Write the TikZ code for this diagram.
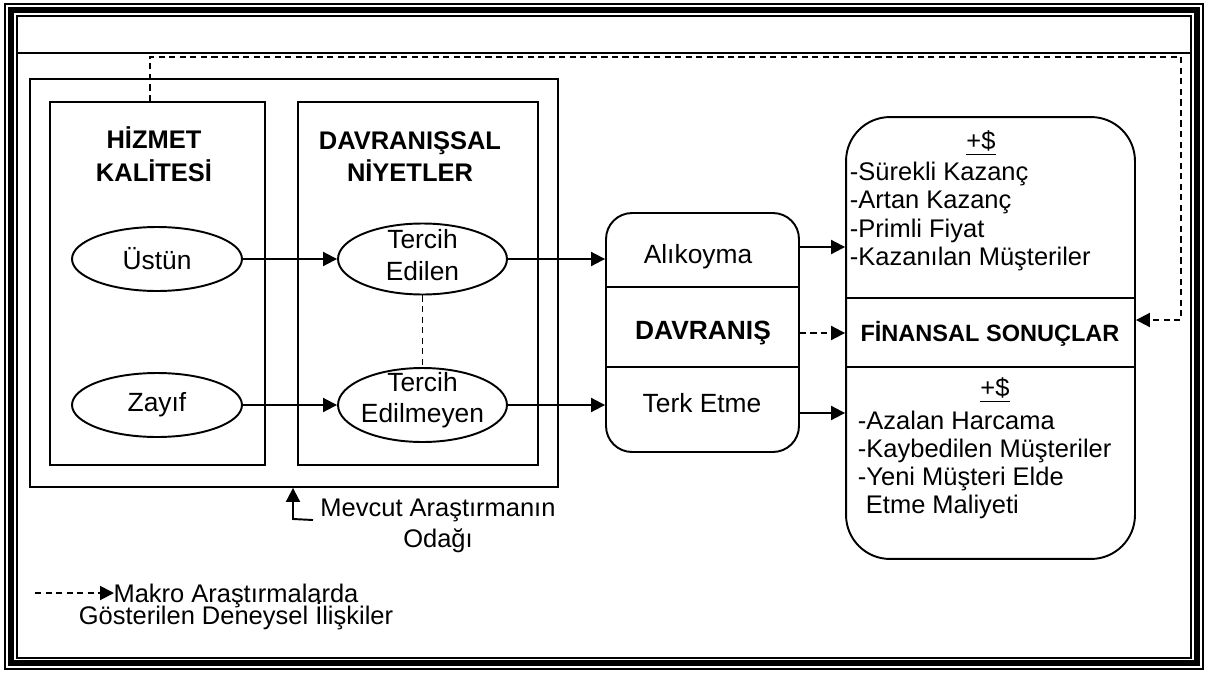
\documentclass[tikz,border=0pt]{standalone}
\usepackage{fontspec}
\setmainfont{Liberation Sans}
\usetikzlibrary{arrows.meta,shapes.geometric}

\newcommand\tightlines{\lineskiplimit=-20pt\relax}

\begin{document}
\begin{tikzpicture}[x=0.02cm,y=-0.02cm,line width=1.1pt,
	font=\fontsize{14.5}{17}\selectfont,
	>={Triangle[length=0.28cm,width=0.28cm]},
	dsh/.style={dash pattern=on 3.5pt off 2.5pt},
	box/.style={draw,inner sep=0pt},
	oval/.style={draw,ellipse,inner sep=0pt,minimum width=3.4cm,minimum height=1.28cm,font=\fontsize{15}{18}\selectfont},
	head/.style={align=center,font=\fontsize{14.5}{18.5}\selectfont\bfseries},
	two/.style={align=center,inner sep=0pt,font=\fontsize{15}{18}\selectfont},
	item/.style={anchor=west,inner sep=0pt,text height=10.4pt,text depth=0pt}]
		\useasboundingbox (0,0) rectangle (1217,673);
		
		% outer frame
		\draw (5,4) rectangle (1203,669);
		\draw[line width=3.4pt] (11,10) rectangle (1197,663);
		\draw (17,16) rectangle (1191,658);
		\draw (17,53) -- (1191,53);
		
		\coordinate (fb) at (1181,57);
		\coordinate (r1) at (0,247);
		\coordinate (r2) at (0,320);
		\coordinate (r3) at (0,413);
		
		\node[box,minimum width=10.56cm,minimum height=8.16cm] (O) at (294,283) {};
		\node[box,minimum width=4.3cm,minimum height=7.26cm] (H) at (157.5,283.5) {};
		\node[box,minimum width=4.8cm,minimum height=7.26cm] (N) at (418,283.5) {};
		\node[head] (H') at (154,154) {HİZMET\\KALİTESİ};
		\node[head] (N') at (410,156.5) {DAVRANIŞSAL\\NİYETLER};
		
		\node[oval] (U) at (157,259) {Üstün};
		\node[oval] (Z) at (157,405) {Zayıf};
		\node[oval,minimum width=3.38cm,minimum height=1.42cm,
			label={[two,yshift=0.08cm]center:Tercih\\Edilen}] (T) at (422.5,259) {};
		\node[oval,minimum width=3.38cm,minimum height=1.48cm,
			label={[two,yshift=0.1cm]center:Tercih\\Edilmeyen}] (T') at (422.5,405) {};
		
		% davranis
		\node[box,rounded corners=0.52cm,minimum width=3.86cm,minimum height=4.78cm] (D) at (702.5,332.5) {};
		\draw (D.west |- 0,287) -- (D.east |- 0,287);
		\draw (D.west |- 0,367) -- (D.east |- 0,367);
		\node[font=\fontsize{15}{18}\selectfont] (D1) at (698,257) {Alıkoyma};
		\node[font=\fontsize{15}{18}\selectfont\bfseries] (D2) at (703,333) {DAVRANIŞ};
		\node[font=\fontsize{15}{18}\selectfont] (D3) at (702,403) {Terk Etme};
		
		% finansal sonuclar
		\node[box,rounded corners=0.88cm,minimum width=5.78cm,minimum height=8.84cm] (F) at (990.5,338) {};
		\draw (F.west |- 0,298) -- (F.east |- 0,298);
		\draw (F.west |- 0,367) -- (F.east |- 0,367);
		\node (F1) at (981,143) {\underline{+\$}};
		\foreach \t [count=\i] in {-Sürekli Kazanç,-Artan Kazanç,-Primli Fiyat,-Kazanılan Müşteriler}
			\node[item] (g\i) at (849,142.5+28.5*\i) {\t};
		\node[font=\fontsize{13.4}{16}\selectfont\bfseries] (F2) at (990,334) {FİNANSAL SONUÇLAR};
		\node (F3) at (995,390) {\underline{+\$}};
		\foreach \t [count=\i] in {-Azalan Harcama,-Kaybedilen Müşteriler,-Yeni Müşteri Elde}
			\node[item] (k\i) at (857,392+28*\i) {\t};
		\node[item] (k4) at (865,504) {Etme Maliyeti};
		
		%
		\path[->]
			(U) edge (T)
			(Z) edge (T')
			(T) edge (T -| D.west)
			(T') edge (T' -| D.west)
			(D.east |- r1) edge (F.west |- r1)
			(D.east |- r3) edge (F.west |- r3);
		
		\draw[dsh] (T) -- (T');
		\draw[dsh,->] (D.east |- D2) -- (F.west |- D2);
		\draw[dsh,->] ([xshift=-0.15cm]H.north) |- (fb) |- (F.east |- r2);
		
		% odak
		\node[two,font=\fontsize{14.5}{17.6}\selectfont] (M) at (438,526) {Mevcut Araştırmanın\\Odağı};
		\coordinate (m) at (313,520);
		\draw[->] (m) -- ++(-20,-1) -- (O.south -| 293,0);
		
		% legend
		\coordinate (l0) at (35,593);
		\coordinate (l1) at (114,593);
		\draw[dsh,->] (l0) -- (l1);
		\node[two,font={\fontsize{14.5}{13}\selectfont\tightlines}] (L) at (236,607) {Makro Araştırmalarda\\Gösterilen Deneysel İlişkiler};
		
	\end{tikzpicture}
\end{document}
